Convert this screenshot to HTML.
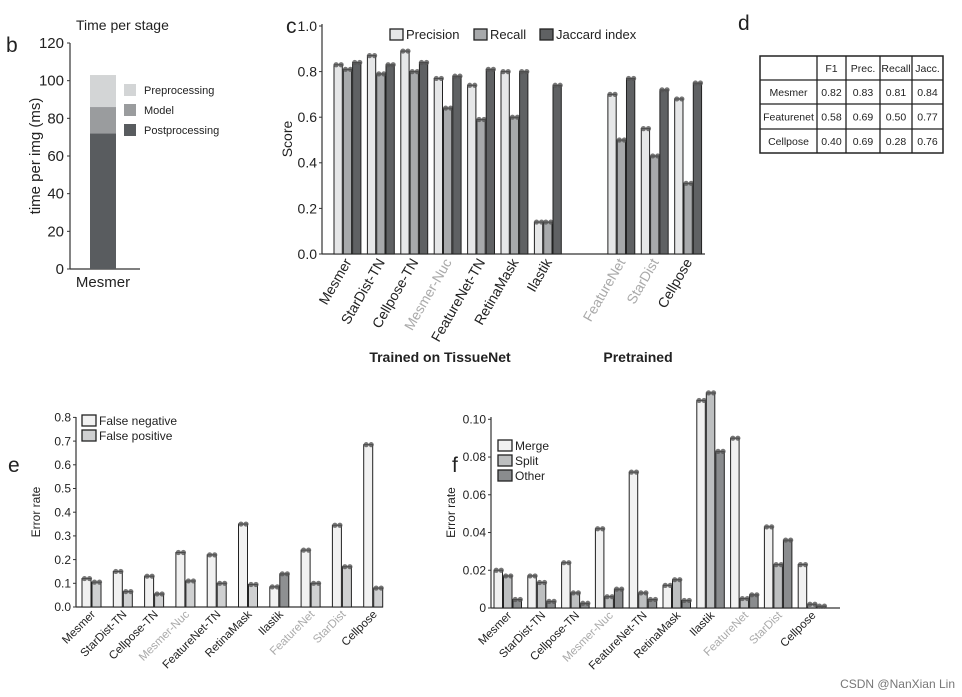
<!DOCTYPE html>
<html><head><meta charset="utf-8"><style>
body{margin:0;background:#fff;font-family:"Liberation Sans",sans-serif;}
svg{display:block}
text{font-family:"Liberation Sans",sans-serif;fill:#222}
</style></head><body>
<svg id="s" width="962" height="697">
<text x="6" y="52" font-size="21">b</text>
<text x="286" y="33" font-size="21">c</text>
<text x="738" y="30" font-size="21">d</text>
<text x="8" y="472" font-size="21">e</text>
<text x="452" y="472" font-size="21">f</text>
<text x="76" y="30" font-size="14">Time per stage</text>
<text x="440" y="362" font-size="14" font-weight="bold" text-anchor="middle">Trained on TissueNet</text>
<text x="638" y="362" font-size="14" font-weight="bold" text-anchor="middle">Pretrained</text>
<text x="955" y="688" font-size="12" text-anchor="end" style="fill:#777">CSDN @NanXian Lin</text>
<g id="b"></g><g id="c"></g><g id="d"></g><g id="e"></g><g id="f"></g>
</svg>
<script>
// panel b
const bStages=["Postprocessing","Model","Preprocessing"];
const bValues=[72,14,17];
const bTicks=[0,20,40,60,80,100,120];
// panel c
const cCats=["Mesmer","StarDist-TN","Cellpose-TN","Mesmer-Nuc","FeatureNet-TN","RetinaMask","Ilastik","FeatureNet","StarDist","Cellpose"];
const cSlots=[0,1,2,3,4,5,6,8.2,9.2,10.2];
const cPrecision=[0.83,0.87,0.89,0.77,0.74,0.80,0.14,0.70,0.55,0.68];
const cRecall=[0.81,0.79,0.80,0.64,0.59,0.60,0.14,0.50,0.43,0.31];
const cJaccard=[0.84,0.83,0.84,0.78,0.81,0.80,0.74,0.77,0.72,0.75];
const cTicks=[0,0.2,0.4,0.6,0.8,1.0];
// panel d
const dCols=["","F1","Prec.","Recall","Jacc."];
const dRows=[["Mesmer","0.82","0.83","0.81","0.84"],["Featurenet","0.58","0.69","0.50","0.77"],["Cellpose","0.40","0.69","0.28","0.76"]];
// panel e
const eCats=["Mesmer","StarDist-TN","Cellpose-TN","Mesmer-Nuc","FeatureNet-TN","RetinaMask","Ilastik","FeatureNet","StarDist","Cellpose"];
const eFN=[0.12,0.15,0.13,0.23,0.22,0.35,0.085,0.24,0.345,0.685];
const eFP=[0.105,0.065,0.055,0.11,0.10,0.095,0.14,0.10,0.17,0.08];
const eTicks=[0,0.1,0.2,0.3,0.4,0.5,0.6,0.7,0.8];
// panel f
const fMerge=[0.020,0.017,0.024,0.042,0.072,0.012,0.110,0.090,0.043,0.023];
const fSplit=[0.017,0.0135,0.008,0.006,0.008,0.015,0.114,0.005,0.023,0.002];
const fOther=[0.0045,0.0035,0.0025,0.010,0.0045,0.004,0.083,0.007,0.036,0.001];
const fTicks=[0,0.02,0.04,0.06,0.08,0.10];
const grayCats=["Mesmer-Nuc","FeatureNet","StarDist"];

const NS="http://www.w3.org/2000/svg";
function mk(p,tag,a,txt){const e=document.createElementNS(NS,tag);for(const k in a)e.setAttribute(k,a[k]);if(txt!==undefined)e.textContent=txt;p.appendChild(e);return e;}

// ---- b
(function(){
const g=document.getElementById('b');
const y=v=>269-v*(226/120);
mk(g,'line',{x1:70,y1:43,x2:70,y2:269,stroke:'#333','stroke-width':1.2});
mk(g,'line',{x1:70,y1:269,x2:140,y2:269,stroke:'#333','stroke-width':1.2});
bTicks.forEach(t=>{const tk=mk(g,'text',{x:64,y:y(t)+5,'font-size':15,'text-anchor':'end'},t);


mk(g,'line',{x1:67,y1:y(t),x2:70,y2:y(t),stroke:'#333'});});
const cols=['#595c5f','#9a9c9e','#d3d5d6'];let acc=0;
bValues.forEach((v,i)=>{const r=mk(g,'rect',{x:90,y:y(acc+v),width:26,height:y(acc)-y(acc+v),fill:cols[i]});


acc+=v;
const ly=93+(2-i)*20;
mk(g,'rect',{x:124,y:ly-9,width:12,height:12,fill:cols[i]});
const lt=mk(g,'text',{x:144,y:ly+1,'font-size':11},bStages[i]);

});
const xl=mk(g,'text',{x:103,y:287,'font-size':15,'text-anchor':'middle'},'Mesmer');


const yt=mk(g,'text',{x:0,y:0,'font-size':15,'text-anchor':'middle',transform:'translate(40,156) rotate(-90)'},'time per img (ms)');


})();

function grouped(g,o){
const y=v=>o.y0-v*o.scale;
mk(g,'line',{x1:o.ax,y1:o.ytop,x2:o.ax,y2:o.y0,stroke:'#333','stroke-width':1.2});
mk(g,'line',{x1:o.ax,y1:o.y0,x2:o.xend,y2:o.y0,stroke:'#333','stroke-width':1.2});
o.ticks.forEach(t=>{mk(g,'line',{x1:o.ax-3,y1:y(t),x2:o.ax,y2:y(t),stroke:'#333'});
const tk=mk(g,'text',{x:o.ax-5,y:y(t)+o.fs*0.35,'font-size':o.fs,'text-anchor':'end'},o.fmt(t));

});
o.cats.forEach((c,i)=>{const gx=o.x0+o.slots[i]*o.step;
o.series.forEach((s,j)=>{const v=s[i];const col=(o.colorFn?o.colorFn(i,j):o.colors[j]);
const r=mk(g,'rect',{x:gx+j*o.bw,y:y(v),width:o.bw-1,height:o.y0-y(v),fill:col,stroke:'#222','stroke-width':1});


[-2.5,2.5].forEach(d=>mk(g,'circle',{cx:gx+j*o.bw+o.bw/2+d,cy:y(v),r:2.6,fill:'#555',opacity:0.8}));});
const cx=gx+o.series.length*o.bw/2+4, cy=o.y0+8;
const lt=mk(g,'text',{x:cx,y:cy,'font-size':o.lfs,'text-anchor':'end',transform:`rotate(${o.rot} ${cx} ${cy})`},c);
if(grayCats.includes(c)) lt.setAttribute('style','fill:#aaa');

});
const yt=mk(g,'text',{x:0,y:0,'font-size':o.tfs,'text-anchor':'middle',transform:`translate(${o.tx},${(o.ytop+o.y0)/2}) rotate(-90)`},o.title);


o.legend.forEach((l,k)=>{mk(g,'rect',{x:l.x,y:l.y-11,width:o.lsw,height:11,fill:o.colors[k],stroke:'#222','stroke-width':1.3});
const t=mk(g,'text',{x:l.x+o.lsw+3,y:l.y-1,'font-size':o.legfs},l.t);

});
}

grouped(document.getElementById('c'),{id:'c',ax:322,y0:254,ytop:24,scale:228,xend:705,x0:334,step:33.4,bw:9.3,
slots:cSlots,cats:cCats,series:[cPrecision,cRecall,cJaccard],colors:['#e6e7e8','#a7a9ab','#5f6163'],
ticks:cTicks,fmt:t=>t.toFixed(1),fs:14,lfs:14,rot:-60,tfs:14,tx:292,title:'Score',lsw:13,legfs:13,
legend:[{x:390,y:40,t:'Precision'},{x:474,y:40,t:'Recall'},{x:540,y:40,t:'Jaccard index'}]});

grouped(document.getElementById('e'),{id:'e',ax:76,y0:607,ytop:417,scale:237,xend:383,x0:82,step:31.3,bw:10,
slots:eCats.map((_,i)=>i),cats:eCats,series:[eFN,eFP],colors:['#f1f1f1','#cfd0d1'],
colorFn:(i,j)=>j===0?'#f1f1f1':(eCats[i]==='Ilastik'?'#8e9092':'#cfd0d1'),
ticks:eTicks,fmt:t=>t.toFixed(1),fs:12,lfs:11.5,rot:-45,tfs:12,tx:40,title:'Error rate',lsw:14,legfs:12,
legend:[{x:82,y:426,t:'False negative'},{x:82,y:441,t:'False positive'}]});

grouped(document.getElementById('f'),{id:'f',ax:491,y0:608,ytop:417,scale:1887,xend:840,x0:494,step:33.8,bw:9.5,
slots:eCats.map((_,i)=>i),cats:eCats,series:[fMerge,fSplit,fOther],colors:['#f1f1f1','#bdbfc0','#8a8c8e'],
ticks:fTicks,fmt:t=>t===0?'0':t.toFixed(2),fs:12,lfs:11.5,rot:-45,tfs:12,tx:455,title:'Error rate',lsw:14,legfs:12,
legend:[{x:498,y:451,t:'Merge'},{x:498,y:466,t:'Split'},{x:498,y:481,t:'Other'}]});

(function(){
const g=document.getElementById('d');
const xs=[760,817,846,880,912,943], ys=[56,80,104,129,153];
mk(g,'rect',{x:760,y:56,width:183,height:97,fill:'none',stroke:'#222','stroke-width':1.5});
xs.slice(1,-1).forEach(x=>mk(g,'line',{x1:x,y1:56,x2:x,y2:153,stroke:'#222','stroke-width':1.3}));
ys.slice(1,-1).forEach(y=>mk(g,'line',{x1:760,y1:y,x2:943,y2:y,stroke:'#222','stroke-width':1.3}));
const rows=[dCols].concat(dRows);
rows.forEach((r,ri)=>r.forEach((c,ci)=>{if(!c)return;
const t=mk(g,'text',{x:(xs[ci]+xs[ci+1])/2,y:(ys[ri]+ys[ri+1])/2+4,'font-size':10.5,'text-anchor':'middle'},c);

}));
})();
</script>
</body></html>
